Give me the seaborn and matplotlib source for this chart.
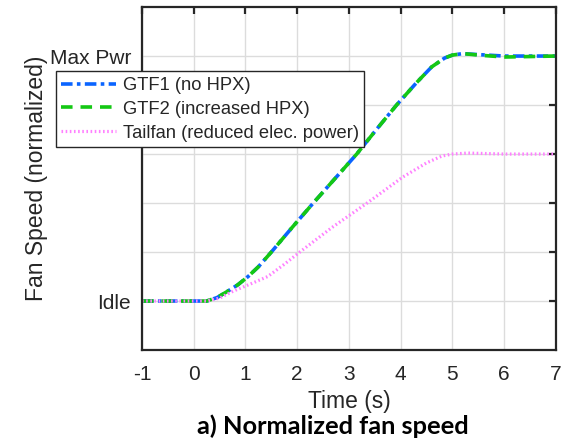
import matplotlib
matplotlib.use("Agg")
import matplotlib.pyplot as plt
import seaborn as sns
import numpy as np

# ---- data ----
t_gtf = [-1, 0, 0.25, 0.45, 0.64, 0.85, 1.05, 1.25, 1.5, 1.9, 2.31, 2.73, 3.15,
         3.53, 3.92, 4.3, 4.6, 4.85, 5.0, 5.2, 5.5, 6.0, 6.5, 7.0]
gtf1 = [0, 0, 0, 0.07, 0.19, 0.33, 0.5, 0.7, 1.0, 1.5, 2.0, 2.5, 3.0,
        3.5, 4.0, 4.45, 4.78, 4.96, 5.02, 5.05, 5.03, 5.0, 5.0, 5.0]
gtf2 = [0, 0, 0, 0.07, 0.19, 0.33, 0.5, 0.7, 1.0, 1.5, 2.0, 2.5, 3.0,
        3.5, 4.0, 4.45, 4.78, 4.96, 5.02, 5.05, 5.02, 4.98, 4.99, 5.0]
t_tail = [-1, 0, 0.25, 0.5, 0.76, 1.1, 1.43, 1.75, 2.05, 2.67, 3.35, 4.04,
          4.5, 4.8, 5.0, 5.3, 6.0, 7.0]
tailfan = [0, 0, 0, 0.06, 0.2, 0.35, 0.5, 0.75, 1.0, 1.5, 2.0, 2.53,
           2.82, 2.96, 3.0, 3.02, 3.0, 3.0]

labels = ["GTF1 (no HPX)", "GTF2 (increased HPX)", "Tailfan (reduced elec. power)"]
x_ticks = [-1, 0, 1, 2, 3, 4, 5, 6, 7]
y_ticks = [0, 1, 2, 3, 4, 5]
y_ticklabels = ["Idle", "", "", "", "", "Max Pwr"]

sns.set_theme(style="white")
plt.rcParams["font.family"] = ["Liberation Sans", "DejaVu Sans"]

fig = plt.figure(figsize=(5.69, 4.41), dpi=100)
ax = fig.add_axes([0.2496, 0.2063, 0.7274, 0.7777])

sns.lineplot(x=t_gtf, y=gtf1, ax=ax, color="#0a64ff", lw=2.6,
             linestyle=(0, (3.2, 1.2, 1.0, 1.2)), label=labels[0])
sns.lineplot(x=t_gtf, y=gtf2, ax=ax, color="#14c814", lw=2.6,
             linestyle=(0, (3.2, 2.2)), label=labels[1])
sns.lineplot(x=t_tail, y=tailfan, ax=ax, color="#ff80ff", lw=2.3,
             linestyle=(0, (0.5, 0.8)), label=labels[2])

ax.set_xlim(-1, 7)
ax.set_ylim(-1, 6)
ax.set_xticks(x_ticks)
ax.set_xticklabels([str(v) for v in x_ticks])
ax.set_yticks(y_ticks)
ax.set_yticklabels(y_ticklabels)
ax.grid(True, color="#dcdcdc", lw=1.0)
ax.set_axisbelow(True)
for s in ax.spines.values():
    s.set_visible(True)
    s.set_color("#262626")
    s.set_linewidth(1.6)
ax.tick_params(direction="in", length=5, width=1.6, color="#262626",
               top=True, right=True, labelsize=15, labelcolor="#262626")
ax.tick_params(axis="x", pad=11)
ax.tick_params(axis="y", pad=8)
ax.set_xlabel("Time (s)", fontsize=16.5, color="#262626", labelpad=4)
ax.set_ylabel("Fan Speed (normalized)", fontsize=16.5, color="#262626", labelpad=1)

leg = ax.legend(loc="upper left", bbox_to_anchor=(0.098, 0.838),
                bbox_transform=fig.transFigure, fontsize=13.2, frameon=True,
                fancybox=False, edgecolor="#262626", framealpha=1,
                handlelength=3.0, handletextpad=0.35, borderpad=0.3,
                labelspacing=0.38, borderaxespad=0)
leg.get_frame().set_linewidth(1.0)

fig.text(0.585, 0.034, "a) Normalized fan speed", ha="center", va="center",
         fontsize=18.3, fontweight="bold", family=["Lato", "DejaVu Sans"], color="black")

fig.savefig("out.png", dpi=100)
